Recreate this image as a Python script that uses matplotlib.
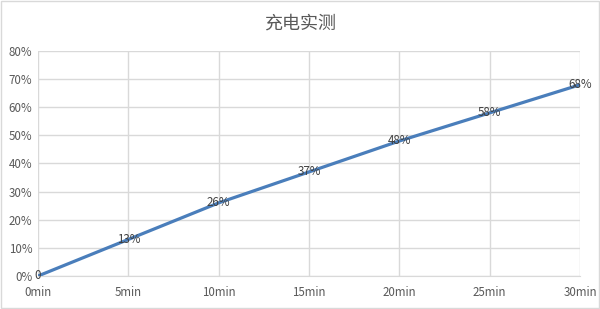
import matplotlib.pyplot as plt
from matplotlib.patches import Rectangle

plt.rcParams['font.family'] = ['Noto Sans CJK SC', 'DejaVu Sans']

minutes = [0, 5, 10, 15, 20, 25, 30]
charge = [0, 13, 26, 37, 48, 58, 68]
labels = ['0', '13%', '26%', '37%', '48%', '58%', '68%']
xtick_labels = ['0min', '5min', '10min', '15min', '20min', '25min', '30min']
yticks = [0, 10, 20, 30, 40, 50, 60, 70, 80]

fig = plt.figure(figsize=(6, 3.09), dpi=100)
ax = fig.add_axes([0.0633, 0.1068, 0.9034, 0.7282])

ax.plot(minutes, charge, color='#4a7ebb', lw=2.3, zorder=3)
for x, y, s in zip(minutes, charge, labels):
    ax.text(x, y, s, ha='center', va='center', fontsize=8.3, color='#404040', zorder=4)

ax.set_xlim(0, 30)
ax.set_ylim(0, 80)
ax.set_xticks(minutes)
ax.set_xticklabels(xtick_labels)
ax.set_yticks(yticks)
ax.set_yticklabels([f'{v}%' for v in yticks])
ax.tick_params(length=0, labelsize=8.3, labelcolor='#595959', pad=7)
ax.tick_params(axis='y', pad=4)
ax.grid(True, color='#d9d9d9', lw=1)
for side in ['top', 'right', 'left']:
    ax.spines[side].set_visible(False)
ax.spines['bottom'].set_color('#d9d9d9')

fig.text(0.5, 0.925, '充电实测', ha='center', va='center', fontsize=13, color='#595959')
fig.patches.append(Rectangle((0.002, 0.003), 0.996, 0.994, transform=fig.transFigure,
                             fill=False, edgecolor='#d9d9d9', lw=1))

fig.savefig('out.png', dpi=100)
